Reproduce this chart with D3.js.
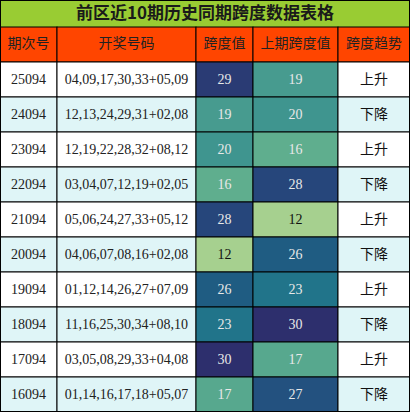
<!DOCTYPE html>
<html><head><meta charset="utf-8">
<script src="https://cdn.jsdelivr.net/npm/d3@7"></script>
<style>body{margin:0;background:#fff}</style>
</head><body><div id="container"></div>
<script>
// données du tableau
const title = "前区近10期历史同期跨度数据表格";
const headers = ["期次号", "开奖号码", "跨度值", "上期跨度值", "跨度趋势"];
const issues = ["25094","24094","23094","22094","21094","20094","19094","18094","17094","16094"];
const draws = ["04,09,17,30,33+05,09","12,13,24,29,31+02,08","12,19,22,28,32+08,12","03,04,07,12,19+02,05","05,06,24,27,33+05,12","04,06,07,08,16+02,08","01,12,14,26,27+07,09","11,16,25,30,34+08,10","03,05,08,29,33+04,08","01,14,16,17,18+05,07"];
const spans = [29,19,20,16,28,12,26,23,30,17];
const prevSpans = [19,20,16,28,12,26,23,30,17,27];
const trends = ["上升","下降","上升","下降","上升","下降","上升","下降","上升","下降"];

const width = 410, height = 412;
const colX = [0, 57, 196, 253, 338, 410];
const titleH = 27, headH = 35, rowH = 35;
const y = i => titleH + headH + i * rowH;

const color = d3.scaleLinear()
    .domain([12, 16, 20, 23, 26, 28, 30])
    .range(["#a6d08f", "#5fae8e", "#3f958f", "#21748a", "#1f5c82", "#26467b", "#2d2f6d"]);

const svg = d3.create("svg").attr("width", width).attr("height", height);
const serif = "'Liberation Serif','DejaVu Serif',serif";
const cjk = "'Noto Sans CJK SC',sans-serif";

// titre
svg.append("rect").attr("width", width).attr("height", titleH).attr("fill", "#99cc33");
svg.append("text").attr("x", width / 2).attr("y", titleH / 2 + 1)
    .attr("text-anchor", "middle").attr("dominant-baseline", "middle")
    .attr("font-family", cjk).attr("font-weight", "bold").attr("font-size", 17)
    .attr("fill", "#1a1a1a").text(title);

// en-têtes
headers.forEach((h, j) => {
    svg.append("rect").attr("x", colX[j]).attr("y", titleH).attr("width", colX[j + 1] - colX[j]).attr("height", headH)
        .attr("fill", "#ff4500").attr("stroke", "#000");
    svg.append("text").attr("x", (colX[j] + colX[j + 1]) / 2).attr("y", titleH + headH / 2)
        .attr("text-anchor", "middle").attr("dominant-baseline", "middle")
        .attr("font-family", cjk).attr("font-size", 14).attr("fill", "#222").text(h);
});

// lignes
issues.forEach((iss, i) => {
    const bg = i % 2 ? "#dff5f7" : "#ffffff";
    const cells = [
        {t: iss, fill: bg, c: "#222", f: serif},
        {t: draws[i], fill: bg, c: "#222", f: serif},
        {t: spans[i], fill: color(spans[i]), c: spans[i] < 14 ? "#111" : "#e8e8e8", f: serif},
        {t: prevSpans[i], fill: color(prevSpans[i]), c: prevSpans[i] < 14 ? "#111" : "#e8e8e8", f: serif},
        {t: trends[i], fill: bg, c: "#111", f: cjk}
    ];
    cells.forEach((c, j) => {
        svg.append("rect").attr("x", colX[j]).attr("y", y(i)).attr("width", colX[j + 1] - colX[j]).attr("height", rowH)
            .attr("fill", c.fill).attr("stroke", "#000");
        svg.append("text").attr("x", (colX[j] + colX[j + 1]) / 2).attr("y", y(i) + rowH / 2 + 1)
            .attr("text-anchor", "middle").attr("dominant-baseline", "middle")
            .attr("font-family", c.f).attr("font-size", 14).attr("fill", c.c).text(c.t);
    });
});
svg.append("rect").attr("x", 0.5).attr("y", 0.5).attr("width", width - 1).attr("height", height - 1)
    .attr("fill", "none").attr("stroke", "#000");

d3.select("#container").node().append(svg.node());
</script></body></html>
